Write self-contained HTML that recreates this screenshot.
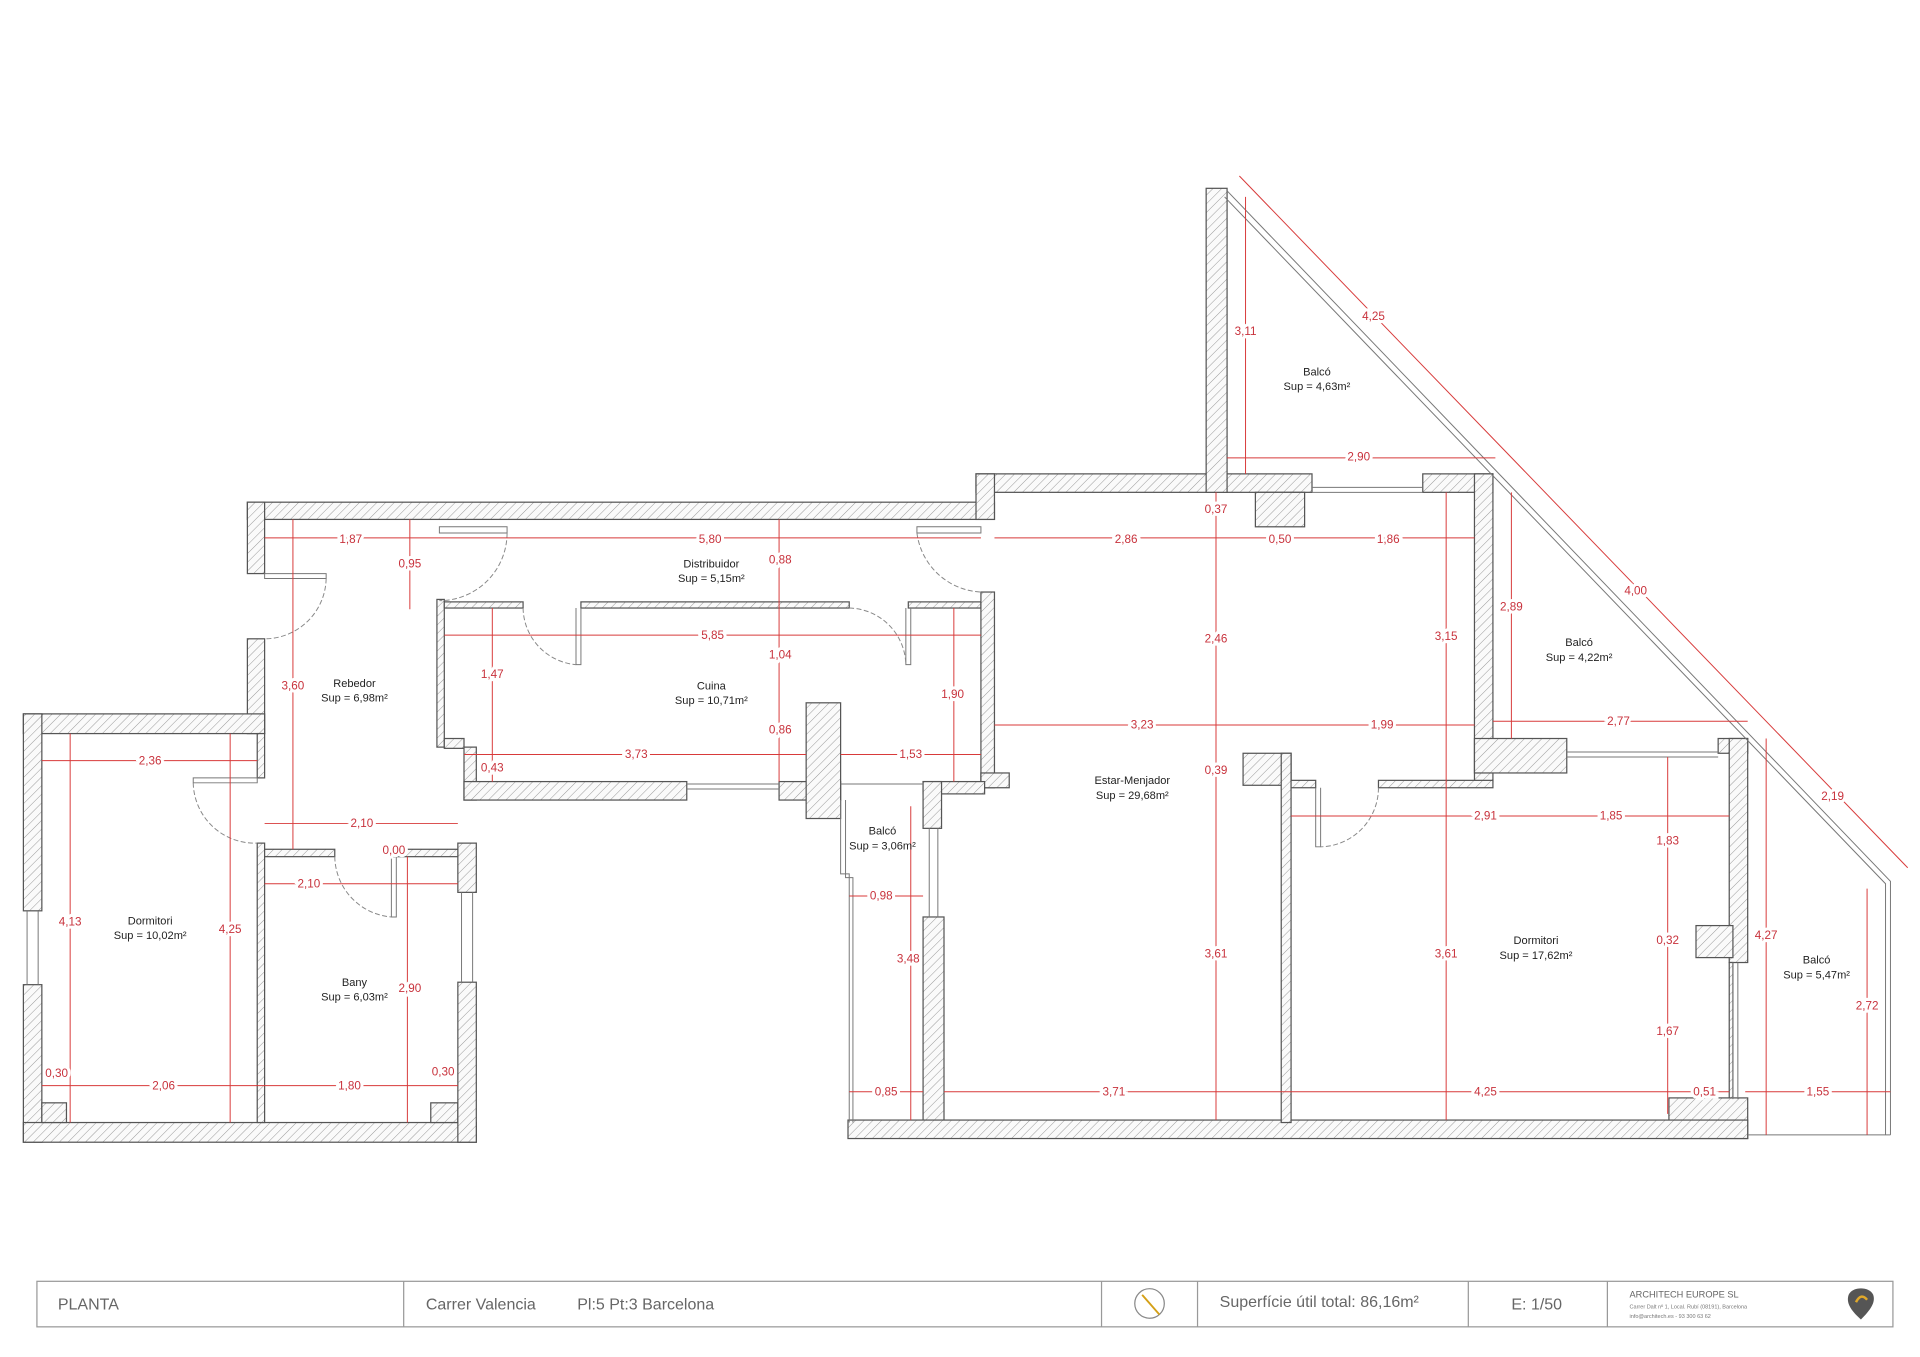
<!DOCTYPE html>
<html><head><meta charset="utf-8"><style>
html,body{margin:0;padding:0;background:#fff}
svg{display:block}
.w{fill:url(#h);stroke:#555;stroke-width:1}
.d{stroke:#d83a3a;stroke-width:.8;fill:none}
.t{fill:#c8323c;font-family:"Liberation Sans",sans-serif;font-size:9.5px;text-anchor:middle;paint-order:stroke;stroke:#fff;stroke-width:5px}
.r{fill:#222;font-family:"Liberation Sans",sans-serif;font-size:9px;text-anchor:middle}
.dr{fill:none;stroke:#888;stroke-width:.8;stroke-dasharray:4 2}
.gl{fill:none;stroke:#777;stroke-width:.8}
.tb{fill:#666;font-family:"Liberation Sans",sans-serif;font-size:13px}
</style></head><body>
<svg width="1920" height="1357" viewBox="0 0 1560 1102.5" preserveAspectRatio="none" xmlns="http://www.w3.org/2000/svg">
<defs><pattern id="h" width="5" height="5" patternUnits="userSpaceOnUse" patternTransform="rotate(45)"><rect width="5" height="5" fill="#fafafa"/><line x1="0" y1="0" x2="0" y2="5" stroke="#999" stroke-width=".8"/></pattern></defs>

<!-- walls -->
<rect class="w" x="201" y="408" width="607" height="14"/>
<rect class="w" x="793" y="385" width="273" height="15"/>
<rect class="w" x="793" y="385" width="15" height="37"/>
<rect class="w" x="980" y="153" width="17" height="247"/>
<rect class="w" x="1020" y="400" width="40" height="28"/>
<rect class="w" x="1156" y="385" width="57" height="15"/>
<rect class="w" x="1198" y="385" width="15" height="250"/>
<rect class="w" x="1198" y="600" width="75" height="28"/>
<rect class="w" x="1396" y="600" width="24" height="12"/>
<rect class="w" x="1405" y="600" width="15" height="182"/>
<rect class="w" x="1378" y="752" width="30" height="26"/>
<rect class="w" x="1405" y="782" width="3" height="111"/>
<rect class="w" x="1356" y="892" width="64" height="33"/>
<rect class="w" x="201" y="408" width="14" height="58"/>
<rect class="w" x="201" y="519" width="14" height="77"/>
<rect class="w" x="19" y="580" width="196" height="16"/>
<rect class="w" x="19" y="580" width="15" height="160"/>
<rect class="w" x="19" y="800" width="15" height="128"/>
<rect class="w" x="19" y="912" width="368" height="16"/>
<rect class="w" x="34" y="896" width="20" height="16"/>
<rect class="w" x="350" y="896" width="22" height="16"/>
<rect class="w" x="372" y="685" width="15" height="40"/>
<rect class="w" x="372" y="798" width="15" height="130"/>
<rect class="w" x="209" y="596" width="6" height="36"/>
<rect class="w" x="209" y="685" width="6" height="227"/>
<rect class="w" x="215" y="690" width="57" height="6"/>
<rect class="w" x="318" y="690" width="54" height="6"/>
<rect class="w" x="355" y="487" width="6" height="120"/>
<rect class="w" x="361" y="489" width="64" height="5"/>
<rect class="w" x="472" y="489" width="218" height="5"/>
<rect class="w" x="738" y="489" width="59" height="5"/>
<rect class="w" x="797" y="481" width="11" height="159"/>
<rect class="w" x="797" y="628" width="23" height="12"/>
<rect class="w" x="361" y="600" width="16" height="8"/>
<rect class="w" x="377" y="607" width="10" height="43"/>
<rect class="w" x="377" y="635" width="181" height="15"/>
<rect class="w" x="633" y="635" width="50" height="15"/>
<rect class="w" x="655" y="571" width="28" height="94"/>
<rect class="w" x="750" y="635" width="50" height="10"/>
<rect class="w" x="750" y="635" width="15" height="38"/>
<rect class="w" x="750" y="745" width="17" height="167"/>
<rect class="w" x="689" y="910" width="731" height="15"/>
<rect class="w" x="1010" y="612" width="39" height="26"/>
<rect class="w" x="1041" y="612" width="8" height="300"/>
<rect class="w" x="1049" y="634" width="20" height="6"/>
<rect class="w" x="1120" y="634" width="93" height="6"/>

<!-- glazing / thin lines -->
<g class="gl">
<path d="M1066 396H1156M1066 400H1156"/>
<path d="M1273 611H1396M1273 615H1396"/>
<path d="M558 637H633M558 641H633M683 637H750"/>
<path d="M22 740V800M31 740V800"/>
<path d="M375 725V798M384 725V798"/>
<path d="M755 673V745M762 673V745"/>
<path d="M683 650V710H690V912M687 650V713H693V912"/>
<path d="M997 155L1536 716V922M995 160L1532 718V922"/>
<path d="M1420 922H1536"/>
<path d="M1408 782V893M1412 782V893"/>
<path d="M357 428H412V433H357Z"/>
<path d="M745 428H797V433H745Z"/>
<path d="M215 466H265V470H215Z"/>
<path d="M157 632H209V636H157Z"/>
<path d="M318 696V745H322V696"/>
<path d="M468 494V540H472V494"/>
<path d="M736 494V540H740V494"/>
<path d="M1069 640V688H1073V640"/>
</g>
<g class="dr">
<path d="M412 433A55 55 0 0 1 357 488"/>
<path d="M745 433A55 55 0 0 0 797 481"/>
<path d="M265 470A50 50 0 0 1 215 519"/>
<path d="M157 636A50 50 0 0 0 209 685"/>
<path d="M272 696A50 50 0 0 0 318 745"/>
<path d="M425 494A47 47 0 0 0 468 540"/>
<path d="M690 494A47 47 0 0 1 736 540"/>
<path d="M1120 640A48 48 0 0 1 1073 688"/>
</g>

<!-- dimension lines -->
<g class="d">
<path d="M215 437H797M808 437H1198"/>
<path d="M361 516H797"/>
<path d="M377 613H655M683 613H797"/>
<path d="M808 589H1198M1213 586H1420"/>
<path d="M997 372H1215"/>
<path d="M215 669H372M215 718H372"/>
<path d="M34 618H209"/>
<path d="M34 882H372"/>
<path d="M1049 663H1405"/>
<path d="M690 728H750M690 887H750M767 887H1405M1418 887H1536"/>
<path d="M238 422V690M333 422V495M633 422V635M400 494V635M775 494V635"/>
<path d="M57 596V912M187 596V912M331 696V912"/>
<path d="M988 400V910M1175 400V910M1228 400V600"/>
<path d="M1012 160V385"/>
<path d="M1355 615V905M1435 600V922M1517 722V922"/>
<path d="M740 655V910"/>
<path d="M1007 143L1550 705"/>
</g>

<!-- dim text -->
<g class="t">
<text x="285" y="441">1,87</text><text x="577" y="441">5,80</text><text x="915" y="441">2,86</text><text x="1040" y="441">0,50</text><text x="1128" y="441">1,86</text>
<text x="333" y="461">0,95</text><text x="634" y="458">0,88</text><text x="988" y="417">0,37</text>
<text x="579" y="519">5,85</text><text x="634" y="535">1,04</text><text x="400" y="551">1,47</text><text x="774" y="567">1,90</text>
<text x="238" y="560">3,60</text><text x="634" y="596">0,86</text><text x="517" y="616">3,73</text><text x="740" y="616">1,53</text>
<text x="400" y="627">0,43</text><text x="928" y="592">3,23</text><text x="1123" y="592">1,99</text><text x="1315" y="589">2,77</text>
<text x="988" y="522">2,46</text><text x="1175" y="520">3,15</text><text x="1228" y="496">2,89</text>
<text x="1012" y="272">3,11</text><text x="1104" y="374">2,90</text><text x="1116" y="260">4,25</text><text x="1329" y="483">4,00</text><text x="1489" y="650">2,19</text>
<text x="122" y="621">2,36</text><text x="294" y="672">2,10</text><text x="251" y="721">2,10</text><text x="320" y="694">0,00</text>
<text x="988" y="629">0,39</text><text x="1207" y="666">2,91</text><text x="1309" y="666">1,85</text><text x="1355" y="686">1,83</text><text x="1355" y="767">0,32</text><text x="1355" y="841">1,67</text>
<text x="716" y="731">0,98</text><text x="738" y="782">3,48</text><text x="988" y="778">3,61</text><text x="1175" y="778">3,61</text>
<text x="1435" y="763">4,27</text><text x="1517" y="820">2,72</text>
<text x="57" y="752">4,13</text><text x="187" y="758">4,25</text><text x="333" y="806">2,90</text>
<text x="46" y="875">0,30</text><text x="133" y="885">2,06</text><text x="284" y="885">1,80</text><text x="360" y="874">0,30</text>
<text x="720" y="890">0,85</text><text x="905" y="890">3,71</text><text x="1207" y="890">4,25</text><text x="1385" y="890">0,51</text><text x="1477" y="890">1,55</text>
</g>

<!-- room labels -->
<g class="r">
<text x="1070" y="305">Balcó</text><text x="1070" y="317">Sup = 4,63m²</text>
<text x="578" y="461">Distribuidor</text><text x="578" y="473">Sup = 5,15m²</text>
<text x="288" y="558">Rebedor</text><text x="288" y="570">Sup = 6,98m²</text>
<text x="578" y="560">Cuina</text><text x="578" y="572">Sup = 10,71m²</text>
<text x="1283" y="525">Balcó</text><text x="1283" y="537">Sup = 4,22m²</text>
<text x="920" y="637">Estar-Menjador</text><text x="920" y="649">Sup = 29,68m²</text>
<text x="717" y="678">Balcó</text><text x="717" y="690">Sup = 3,06m²</text>
<text x="122" y="751">Dormitori</text><text x="122" y="763">Sup = 10,02m²</text>
<text x="1248" y="767">Dormitori</text><text x="1248" y="779">Sup = 17,62m²</text>
<text x="1476" y="783">Balcó</text><text x="1476" y="795">Sup = 5,47m²</text>
<text x="288" y="801">Bany</text><text x="288" y="813">Sup = 6,03m²</text>
</g>

<!-- title block -->
<rect x="30" y="1041" width="1508" height="37" fill="none" stroke="#999" stroke-width="1"/>
<g stroke="#999" stroke-width="1"><path d="M328 1041V1078M895 1041V1078M973 1041V1078M1193 1041V1078M1306 1041V1078"/></g>
<text class="tb" x="47" y="1064">PLANTA</text>
<text class="tb" x="346" y="1064">Carrer Valencia</text>
<text class="tb" x="469" y="1064">Pl:5 Pt:3 Barcelona</text>
<circle cx="934" cy="1059" r="12" fill="none" stroke="#888" stroke-width="1"/>
<path d="M928 1052L942 1068" stroke="#d4a017" stroke-width="1.5"/>
<text class="tb" x="991" y="1062">Superfície útil total: 86,16m²</text>
<text class="tb" x="1228" y="1064">E: 1/50</text>
<text x="1324" y="1054" fill="#666" font-family="Liberation Sans,sans-serif" font-size="7.5">ARCHITECH EUROPE SL</text>
<text x="1324" y="1063" fill="#777" font-family="Liberation Sans,sans-serif" font-size="4.5">Carrer Dalt nº 1, Local. Rubí (08191), Barcelona</text>
<text x="1324" y="1071" fill="#777" font-family="Liberation Sans,sans-serif" font-size="4.5">info@architech.es - 93 300 63 62</text>
<path d="M1512 1072C1503 1064 1500 1058 1502 1052C1505 1045 1519 1045 1522 1052C1524 1058 1520 1064 1512 1072Z" fill="#555"/>
<path d="M1508 1058Q1512 1050 1517 1056" stroke="#e0a82a" stroke-width="2" fill="none"/>
</svg>
</body></html>
